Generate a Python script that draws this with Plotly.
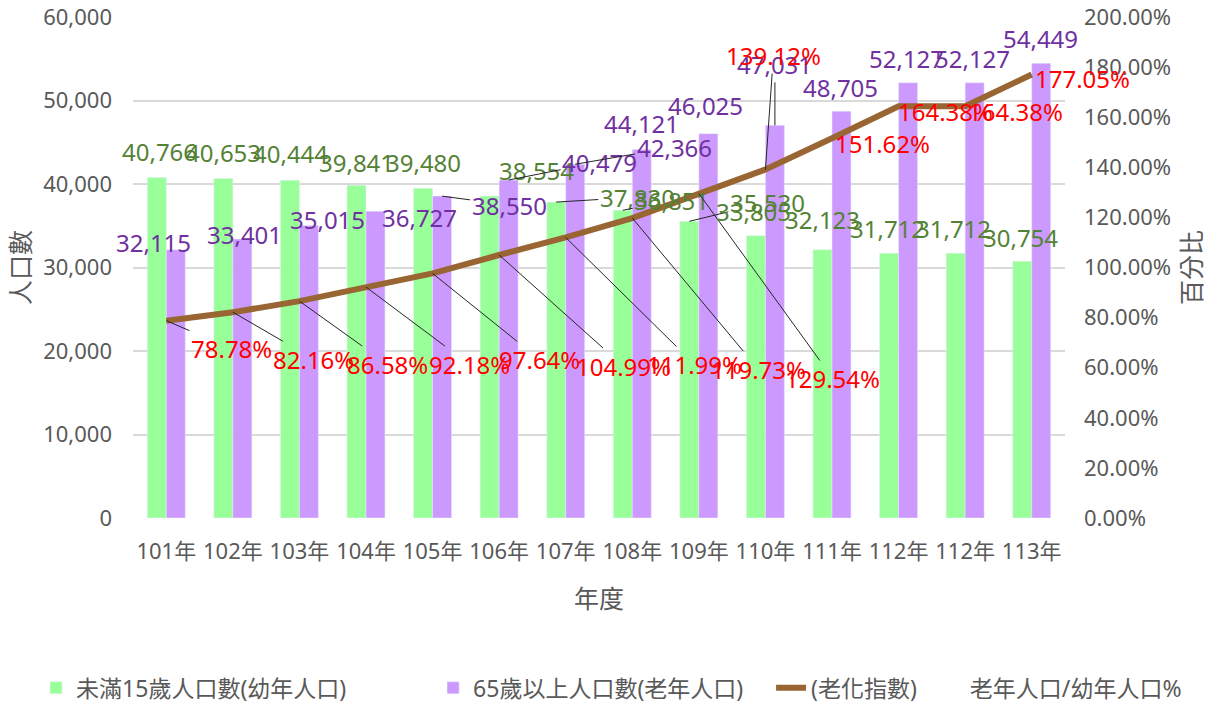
import plotly.graph_objects as go

# data
years = ['101年', '102年', '103年', '104年', '105年', '106年', '107年',
         '108年', '109年', '110年', '111年', '112年', '112年', '113年']
youth = [40766, 40653, 40444, 39841, 39480, 38554, 37830,
         36851, 35530, 33805, 32123, 31712, 31712, 30754]
elderly = [32115, 33401, 35015, 36727, 38550, 40479, 42366,
           44121, 46025, 47031, 48705, 52127, 52127, 54449]
aging_index = [78.78, 82.16, 86.58, 92.18, 97.64, 104.99, 111.99,
               119.73, 129.54, 139.12, 151.62, 164.38, 164.38, 177.05]

GREEN = '#99FF99'
PURPLE = '#CC99FF'
BROWN = '#996633'
GREEN_TXT = '#548235'
PURPLE_TXT = '#7030A0'
RED_TXT = '#FF0000'
GRAY = '#595959'
FONT = 'Noto Sans, Noto Sans CJK TC, sans-serif'
BARGAP = 0.43
LABEL_SIZE = 24

# label placement (pixel offsets of the text centre from the mark), leader line yes/no
green_pos = [(3, -26, 0), (0, -26, 0), (1, -27, 0), (0, -23, 0), (0, -26, 0), (47, -26, 0), (81, -5, 1),
             (49, -10, 1), (78, -19, 1), (-2, -24, 0), (0, -30, 0), (-2, -25, 0), (-2, -25, 0), (-2, -24, 0)]
purple_pos = [(-22, -7, 0), (2, -5, 0), (19, -6, 0), (44, 6, 0), (67, 9, 1), (91, -18, 1), (99, -17, 1),
              (0, -26, 0), (-3, -28, 0), (0, -61, 1), (-1, -24, 0), (-2, -24, 0), (-2, -24, 0), (-1, -25, 0)]
red_pos = [(65, 28, 1), (81, 47, 1), (88, 63, 1), (103, 77, 1), (107, 86, 1), (124, 111, 1), (129, 127, 1),
           (126, 151, 1), (134, 185, 1), (8, -114, 1), (50, 5, 0), (47, 5, 0), (50, 5, 0), (51, 4, 0)]

idx = list(range(len(years)))
half = (1 - BARGAP) / 4

fig = go.Figure()
fig.add_trace(go.Bar(x=idx, y=youth, name='未滿15歲人口數(幼年人口)', marker_color=GREEN,
                     legendwidth=352))
fig.add_trace(go.Bar(x=idx, y=elderly, name='65歲以上人口數(老年人口)', marker_color=PURPLE,
                     legendwidth=293))
fig.add_trace(go.Scatter(x=idx, y=[v / 100 for v in aging_index], name='(老化指數)', yaxis='y2',
                         mode='lines', line=dict(color=BROWN, width=6), legendwidth=130))
fig.add_trace(go.Scatter(x=[None], y=[None], name='老年人口/幼年人口%', yaxis='y2', legend='legend2',
                         mode='lines', line=dict(color='rgba(0,0,0,0)', width=1)))


def label(x, y, text, color, pos, yref='y'):
    dx, dy, leader = pos
    if leader:
        fig.add_annotation(x=x, y=y, yref=yref, text=text, showarrow=True, arrowhead=0,
                           arrowwidth=1, arrowcolor='#262626', ax=dx, ay=dy, standoff=0,
                           font=dict(color=color, size=LABEL_SIZE, family=FONT))
    else:
        fig.add_annotation(x=x, y=y, yref=yref, text=text, showarrow=False,
                           xshift=dx, yshift=-dy, font=dict(color=color, size=LABEL_SIZE, family=FONT))


for i in idx:
    label(i - half, youth[i], f'{youth[i]:,}', GREEN_TXT, green_pos[i])
    label(i + half, elderly[i], f'{elderly[i]:,}', PURPLE_TXT, purple_pos[i])
    label(i, aging_index[i] / 100, f'{aging_index[i]:.2f}%', RED_TXT, red_pos[i], yref='y2')

legend_style = dict(orientation='h', xanchor='left', y=-0.339, yanchor='middle',
                    font=dict(size=23, color=GRAY), traceorder='normal', bgcolor='rgba(0,0,0,0)')

fig.update_layout(
    width=1215, height=707,
    margin=dict(l=133, r=150, t=17, b=189, autoexpand=False),
    paper_bgcolor='white', plot_bgcolor='white',
    barmode='group', bargap=BARGAP, bargroupgap=0,
    font=dict(family=FONT, color=GRAY, size=20),
    showlegend=True,
    legend=dict(x=-0.104, **legend_style),
    legend2=dict(x=0.855, **legend_style),
    xaxis=dict(tickmode='array', tickvals=idx, ticktext=years, range=[-0.5, len(years) - 0.5],
               showgrid=False, zeroline=False, showline=False, ticks='',
               tickfont=dict(size=22, color=GRAY), ticklabelstandoff=18,
               title=dict(text='年度', font=dict(size=25, color=GRAY), standoff=26)),
    yaxis=dict(range=[0, 60000], dtick=10000, tickformat=',', showgrid=True, gridcolor='#D9D9D9',
               gridwidth=2, zeroline=False, showline=False, tickfont=dict(size=22, color=GRAY),
               ticklabelstandoff=20, ticklabeloverflow='allow',
               title=dict(text='人口數', font=dict(size=25, color=GRAY), standoff=5)),
    yaxis2=dict(range=[0, 2], dtick=0.2, tickformat='.2%', overlaying='y', side='right',
                showgrid=False, zeroline=False, showline=False, tickfont=dict(size=22, color=GRAY),
                ticklabelstandoff=18, ticklabeloverflow='allow',
                title=dict(text='百分比', font=dict(size=25, color=GRAY), standoff=13)),
)

# the default page body has an 8px margin; drop it so the figure fills the window
fig.write_html('out.html', config={'displayModeBar': False},
               post_script="document.body.style.margin = '0';")
